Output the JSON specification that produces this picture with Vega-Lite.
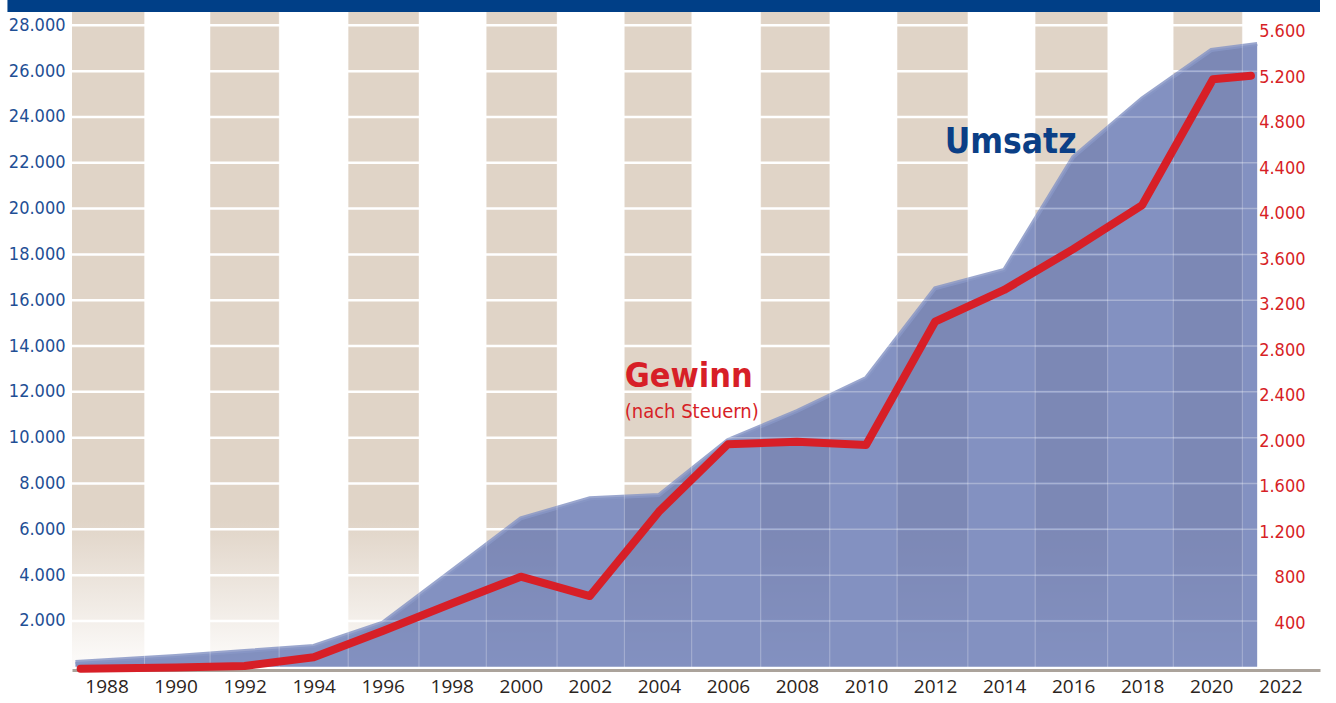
{
  "$schema": "https://vega.github.io/schema/vega-lite/v6.json",
  "width": 1248,
  "height": 667,
  "autosize": {"type": "none"},
  "padding": {"left": 72, "top": 0, "right": 16, "bottom": 36},
  "background": "#ffffff",
  "config": {"view": {"stroke": null}},
  "datasets": {
    "umsatz": [
      {"year": 1987.1, "v": 210},
      {"year": 1990, "v": 467},
      {"year": 1992, "v": 690},
      {"year": 1994, "v": 908},
      {"year": 1996, "v": 1925},
      {"year": 1998, "v": 4195},
      {"year": 2000, "v": 6482},
      {"year": 2002, "v": 7355},
      {"year": 2004, "v": 7499},
      {"year": 2006, "v": 9898},
      {"year": 2008, "v": 11165},
      {"year": 2010, "v": 12606},
      {"year": 2012, "v": 16522},
      {"year": 2014, "v": 17320},
      {"year": 2016, "v": 22250},
      {"year": 2018, "v": 24815},
      {"year": 2020, "v": 26923},
      {"year": 2021.33, "v": 27185}
    ],
    "gewinn": [
      {"year": 1987.25, "g": 0},
      {"year": 1990, "g": 10},
      {"year": 1992, "g": 24},
      {"year": 1994, "g": 100},
      {"year": 1996, "g": 332},
      {"year": 1998, "g": 573},
      {"year": 2000, "g": 809},
      {"year": 2002, "g": 639},
      {"year": 2004, "g": 1381},
      {"year": 2006, "g": 1974},
      {"year": 2008, "g": 1996},
      {"year": 2010, "g": 1967},
      {"year": 2012, "g": 3052},
      {"year": 2014, "g": 3331},
      {"year": 2016, "g": 3690},
      {"year": 2018, "g": 4078},
      {"year": 2020.05, "g": 5184},
      {"year": 2021.15, "g": 5215}
    ],
    "stripes": [
      {"x0": 1987.0, "x1": 1989.1},
      {"x0": 1991.0, "x1": 1993.0},
      {"x0": 1995.0, "x1": 1997.05},
      {"x0": 1999.0, "x1": 2001.05},
      {"x0": 2003.0, "x1": 2004.95},
      {"x0": 2006.95, "x1": 2008.95},
      {"x0": 2010.9, "x1": 2012.95},
      {"x0": 2014.9, "x1": 2017.0},
      {"x0": 2018.9, "x1": 2020.9}
    ],
    "edges": [
      {"e": 1989.1}, {"e": 1991.0}, {"e": 1993.0}, {"e": 1995.0}, {"e": 1997.05},
      {"e": 1999.0}, {"e": 2001.05}, {"e": 2003.0}, {"e": 2004.95}, {"e": 2006.95},
      {"e": 2008.95}, {"e": 2010.9}, {"e": 2012.95}, {"e": 2014.9}, {"e": 2017.0},
      {"e": 2018.9}, {"e": 2020.9}
    ],
    "grid": [
      {"v": 2000}, {"v": 4000}, {"v": 6000}, {"v": 8000}, {"v": 10000}, {"v": 12000}, {"v": 14000},
      {"v": 16000}, {"v": 18000}, {"v": 20000}, {"v": 22000}, {"v": 24000}, {"v": 26000}, {"v": 28000}
    ],
    "bar": [{"x0": 1985.13, "x1": 2023.15, "v0": 28582, "v1": 29105}],
    "labels": [
      {"k": "u", "t": "Umsatz", "year": 2012.28, "v": 22427},
      {"k": "g", "t": "Gewinn", "year": 2003.01, "v": 12226},
      {"k": "s", "t": "(nach Steuern)", "year": 2003.01, "v": 10847}
    ]
  },
  "layer": [
    {
      "layer": [
        {
          "data": {"name": "stripes"},
          "mark": {
            "type": "rect",
            "color": {
              "gradient": "linear", "x1": 0, "y1": 0, "x2": 0, "y2": 1,
              "stops": [
                {"offset": 0, "color": "#e0d4c7"},
                {"offset": 0.78, "color": "#e0d4c7"},
                {"offset": 1, "color": "#fdfcfb"}
              ]
            }
          },
          "encoding": {
            "x": {
              "field": "x0", "type": "quantitative",
              "scale": {"domain": [1987, 2023.15], "nice": false, "zero": false},
              "axis": {
                "title": null, "values": [1988, 1990, 1992, 1994, 1996, 1998, 2000, 2002, 2004, 2006, 2008, 2010, 2012, 2014, 2016, 2018, 2020, 2022],
                "format": "d", "ticks": false, "grid": false, "domainColor": "#aba39b", "domainWidth": 3, "offset": 3,
                "labelPadding": 7, "labelFont": "Open Sans", "labelFontSize": 19, "labelColor": "#2b2420", "labelOverlap": false
              }
            },
            "x2": {"field": "x1"}
          }
        },
        {
          "data": {"name": "grid"},
          "mark": {"type": "rule", "color": "#ffffff", "strokeWidth": 2.5},
          "encoding": {
            "y": {
              "field": "v", "type": "quantitative",
              "scale": {"domain": [-9, 29105], "nice": false, "zero": false},
              "axis": {
                "title": null, "values": [2000, 4000, 6000, 8000, 10000, 12000, 14000, 16000, 18000, 20000, 22000, 24000, 26000, 28000],
                "labelExpr": "replace(format(datum.value, ','), ',', '.')",
                "ticks": false, "domain": false, "grid": false, "labelPadding": 7, "zindex": 1,
                "labelFont": "'DejaVu Sans Condensed', sans-serif", "labelFontSize": 18, "labelColor": "#1f4f95"
              }
            }
          }
        },
        {
          "data": {"name": "umsatz"},
          "mark": {"type": "area", "color": "#6072b0", "opacity": 0.78},
          "encoding": {
            "x": {"field": "year", "type": "quantitative", "scale": {"domain": [1987, 2023.15], "nice": false, "zero": false}, "axis": {"title": null}},
            "y": {"field": "v", "type": "quantitative", "scale": {"domain": [-9, 29105], "nice": false, "zero": false}, "axis": {"title": null}}
          }
        },
        {
          "data": {"name": "umsatz"},
          "mark": {"type": "line", "color": "#8896c6", "strokeWidth": 4, "opacity": 0.85},
          "encoding": {
            "x": {"field": "year", "type": "quantitative", "scale": {"domain": [1987, 2023.15], "nice": false, "zero": false}, "axis": {"title": null}},
            "y": {"field": "v", "type": "quantitative", "scale": {"domain": [-9, 29105], "nice": false, "zero": false}, "axis": {"title": null}}
          }
        },
        {
          "data": {"name": "grid"},
          "mark": {"type": "rule", "color": "#ffffff", "strokeWidth": 1.5, "opacity": 0.3},
          "encoding": {
            "y": {"field": "v", "type": "quantitative", "scale": {"domain": [-9, 29105], "nice": false, "zero": false}, "axis": {"title": null}}
          }
        },
        {
          "data": {"name": "edges"},
          "mark": {"type": "rule", "color": "#ffffff", "strokeWidth": 1, "opacity": 0.3},
          "encoding": {
            "x": {"field": "e", "type": "quantitative", "scale": {"domain": [1987, 2023.15], "nice": false, "zero": false}, "axis": {"title": null}}
          }
        },
        {
          "data": {"name": "bar"},
          "mark": {"type": "rect", "color": "#003f87"},
          "encoding": {
            "x": {"field": "x0", "type": "quantitative", "scale": {"domain": [1987, 2023.15], "nice": false, "zero": false}, "axis": {"title": null}},
            "x2": {"field": "x1"},
            "y": {"field": "v0", "type": "quantitative", "scale": {"domain": [-9, 29105], "nice": false, "zero": false}, "axis": {"title": null}},
            "y2": {"field": "v1"}
          }
        },
        {
          "data": {"name": "labels"},
          "transform": [{"filter": "datum.k == 'u'"}],
          "mark": {"type": "text", "align": "left", "baseline": "alphabetic", "font": "'DejaVu Sans Condensed', sans-serif", "fontWeight": "bold", "fontSize": 35, "color": "#0b3f86"},
          "encoding": {
            "x": {"field": "year", "type": "quantitative", "scale": {"domain": [1987, 2023.15], "nice": false, "zero": false}, "axis": {"title": null}},
            "y": {"field": "v", "type": "quantitative", "scale": {"domain": [-9, 29105], "nice": false, "zero": false}, "axis": {"title": null}},
            "text": {"field": "t"}
          }
        },
        {
          "data": {"name": "labels"},
          "transform": [{"filter": "datum.k == 'g'"}],
          "mark": {"type": "text", "align": "left", "baseline": "alphabetic", "font": "'DejaVu Sans Condensed', sans-serif", "fontWeight": "bold", "fontSize": 34, "color": "#d71f27"},
          "encoding": {
            "x": {"field": "year", "type": "quantitative", "scale": {"domain": [1987, 2023.15], "nice": false, "zero": false}, "axis": {"title": null}},
            "y": {"field": "v", "type": "quantitative", "scale": {"domain": [-9, 29105], "nice": false, "zero": false}, "axis": {"title": null}},
            "text": {"field": "t"}
          }
        },
        {
          "data": {"name": "labels"},
          "transform": [{"filter": "datum.k == 's'"}],
          "mark": {"type": "text", "align": "left", "baseline": "alphabetic", "font": "'DejaVu Sans Condensed', sans-serif", "fontSize": 20, "color": "#d71f27"},
          "encoding": {
            "x": {"field": "year", "type": "quantitative", "scale": {"domain": [1987, 2023.15], "nice": false, "zero": false}, "axis": {"title": null}},
            "y": {"field": "v", "type": "quantitative", "scale": {"domain": [-9, 29105], "nice": false, "zero": false}, "axis": {"title": null}},
            "text": {"field": "t"}
          }
        }
      ]
    },
    {
      "data": {"name": "gewinn"},
      "mark": {"type": "line", "color": "#d71f27", "strokeWidth": 8, "strokeCap": "round", "strokeJoin": "round"},
      "encoding": {
        "x": {"field": "year", "type": "quantitative", "scale": {"domain": [1987, 2023.15], "nice": false, "zero": false}, "axis": {"title": null}},
        "y": {
          "field": "g", "type": "quantitative",
          "scale": {"domain": [15, 5881], "nice": false, "zero": false},
          "axis": {
            "orient": "right", "title": null, "offset": -15, "zindex": 1,
            "values": [400, 800, 1200, 1600, 2000, 2400, 2800, 3200, 3600, 4000, 4400, 4800, 5200, 5600],
            "labelExpr": "replace(format(datum.value, ','), ',', '.')",
            "ticks": false, "domain": false, "grid": false, "labelPadding": 0, "labelAlign": "right",
            "labelFont": "'DejaVu Sans Condensed', sans-serif", "labelFontSize": 18, "labelColor": "#d71f27"
          }
        }
      }
    }
  ],
  "resolve": {"scale": {"y": "independent"}, "axis": {"y": "independent"}}
}
